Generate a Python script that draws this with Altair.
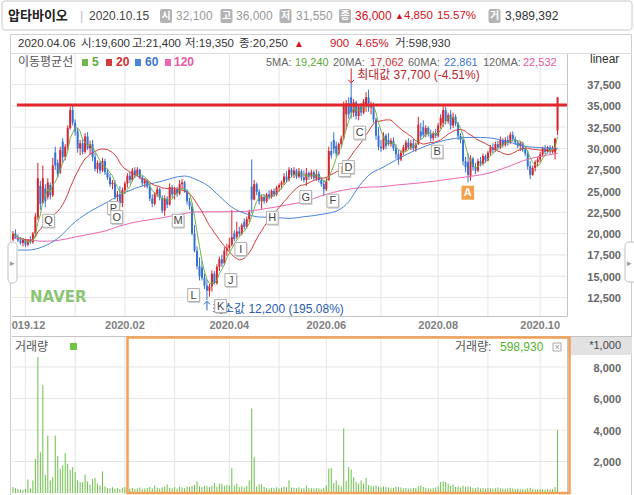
import altair as alt
import pandas as pd

# ---------------- data ----------------
open_px = [
    19300, 20000, 19500, 19200, 18900, 19300, 18700, 19100, 19000, 20000,
    21900, 25600, 23600, 25300, 24300, 25700, 24500, 29500, 28300, 27200,
    30800, 29000, 30200, 32400, 34500, 33000, 32000, 30000, 30600, 29600,
    31400, 30000, 30500, 29000, 27600, 28300, 27400, 28500, 27200, 26600,
    25800, 26000, 24300, 24600, 23600, 25100, 25900, 26800, 26300, 27400,
    26900, 27500, 26600, 25900, 26200, 25500, 24100, 23500, 24600, 25200,
    24200, 22700, 24100, 23400, 25400, 24600, 25200, 24700, 25800, 26000,
    25000, 23800, 23200, 20000, 18000, 16200, 16000, 14800, 13900, 13300,
    13800, 15300, 14200, 16100, 17000, 16500, 18000, 18300, 18700, 20000,
    19600, 20250, 20000, 21400, 20800, 21700, 25500, 24000, 25800, 24900,
    23800, 24300, 23800, 24600, 24300, 25000, 24600, 25400, 25700, 26000,
    26700, 26300, 27500, 26900, 27400, 26700, 27300, 26600, 26300, 27100,
    26700, 27200, 26500, 27000, 26300, 25800, 25200, 26300, 29700, 31000,
    30300, 29400, 30500, 31200, 34000, 35300, 36000, 34200, 35400, 33800,
    34900, 34200, 35000, 36000, 34800, 35200, 33400, 31500, 30200, 30000,
    31500, 31000, 30500, 30900, 30000, 29300, 28700, 29500, 29800, 30700,
    30100, 30600, 30000, 30500, 32000, 32500, 31600, 32400, 31700, 31200,
    31800, 31500, 32700, 33000, 34500, 33200, 34000, 32700, 33700, 32900,
    31500, 31000, 28500, 28400, 26800, 28800, 27800, 27400, 28500, 28200,
    29100, 28600, 29500, 30100, 29800, 30500, 30100, 31000, 30400, 31000,
    30700, 31600, 31100, 30700, 30300, 30600, 29900, 29400, 27900, 26900,
    27700, 28400, 28700, 29300, 30000, 29600, 30100, 29700, 29500, 32100,
]
high_px = [
    20300, 20500, 19900, 19600, 19500, 19400, 19300, 19700, 20200, 22400,
    28300, 26200, 28000, 25800, 26500, 26000, 28900, 30200, 28700, 30200,
    31200, 30500, 32700, 34900, 35000, 33400, 32400, 31000, 31200, 31800,
    31900, 30900, 31000, 29500, 28600, 28500, 28900, 28800, 27600, 27000,
    26300, 26300, 25000, 25600, 25400, 26100, 27100, 27200, 27700, 27800,
    27800, 27600, 26800, 26500, 26400, 25900, 24600, 24900, 25500, 25400,
    24500, 24500, 24400, 25900, 25700, 25500, 25500, 26300, 26400, 26200,
    25200, 24200, 23600, 21000, 18500, 17200, 16800, 15300, 14600, 14100,
    15700, 15600, 16400, 17300, 17500, 18400, 18800, 19500, 22800, 20400,
    21400, 20800, 21200, 21800, 22000, 22800, 28700, 26300, 26000, 25200,
    24600, 24600, 24800, 25100, 25200, 25300, 25600, 25900, 26200, 27100,
    27300, 27800, 27700, 27800, 27600, 27700, 27500, 27400, 27700, 27300,
    27500, 27400, 27500, 27300, 26600, 26300, 26500, 30200, 30800, 31900,
    30800, 30700, 31500, 35500, 35700, 36000, 37700, 35800, 35600, 35200,
    35300, 35800, 36600, 36900, 35500, 35400, 33600, 32500, 31000, 31900,
    31700, 31800, 31200, 31300, 30500, 29800, 29800, 30400, 31000, 31200,
    31000, 31100, 30700, 33700, 33000, 33300, 32700, 32600, 32200, 32000,
    32300, 33000, 34000, 35000, 34900, 34200, 34500, 34200, 34000, 33100,
    31800, 31400, 29000, 29400, 29200, 29000, 28300, 28800, 29000, 29400,
    29300, 29700, 30400, 30600, 30800, 30900, 31400, 31200, 31300, 31500,
    31900, 32000, 31400, 31000, 30900, 30800, 30100, 29800, 28500, 28000,
    28600, 29000, 29600, 30200, 30400, 30300, 30400, 30300, 31200, 36000,
]
low_px = [
    19100, 19400, 19000, 18700, 18500, 18400, 18500, 18800, 18800, 19600,
    21600, 22800, 23500, 23100, 24000, 24000, 24300, 27500, 26600, 27000,
    28300, 28600, 29800, 32200, 32700, 31500, 29500, 29200, 29300, 29400,
    29800, 29300, 28500, 27300, 27100, 27000, 27200, 26900, 26300, 25500,
    25200, 24000, 23500, 23200, 23100, 24700, 25400, 25900, 26100, 26500,
    26700, 26400, 25600, 25400, 25300, 23800, 23100, 23300, 24300, 23900,
    22400, 22100, 23000, 23300, 24200, 24000, 24300, 24500, 25200, 24800,
    23400, 22800, 19800, 17800, 15800, 14500, 14500, 13500, 12200, 12600,
    13200, 14000, 14000, 15600, 16100, 16300, 17400, 18000, 18500, 19100,
    19350, 19600, 19800, 20500, 20600, 21300, 22400, 23900, 24500, 23400,
    22900, 23500, 23600, 24000, 24100, 24300, 24400, 24900, 25200, 25700,
    26000, 26100, 26600, 26500, 26400, 26500, 26200, 26000, 25600, 26300,
    26400, 26300, 26200, 26000, 25500, 24400, 25000, 26200, 28800, 29400,
    29000, 29200, 30200, 31000, 32200, 33500, 33500, 33700, 33400, 33300,
    33800, 34000, 34300, 34300, 34000, 33000, 31000, 29800, 29600, 29800,
    29900, 30300, 30200, 29700, 28800, 28100, 28500, 29200, 29600, 29900,
    29800, 29700, 29600, 30400, 31000, 31300, 31300, 31400, 30800, 30900,
    31200, 31300, 32300, 32500, 32800, 32900, 32200, 32400, 32600, 31000,
    30600, 28000, 27200, 26000, 26200, 27400, 27000, 27200, 27900, 28000,
    28300, 28500, 29200, 29400, 29600, 29800, 29900, 30100, 30200, 30300,
    30500, 30800, 30400, 30000, 29700, 29600, 29100, 27500, 26400, 26800,
    27300, 27900, 28300, 29000, 29300, 29400, 29300, 29400, 28700, 31550,
]
close_px = [
    20000, 19500, 19200, 18900, 19300, 18700, 19100, 19000, 20000, 22000,
    26500, 23500, 26500, 23800, 26000, 24500, 28000, 28000, 27000, 29800,
    29000, 30200, 32400, 34500, 33000, 32000, 30000, 30600, 29600, 31400,
    30000, 30500, 29000, 27600, 28300, 27400, 28500, 27200, 26600, 25800,
    26000, 24300, 24600, 23600, 25100, 25900, 26800, 26300, 27400, 26900,
    27500, 26600, 25900, 26200, 25500, 24100, 23500, 24600, 25200, 24200,
    22700, 24100, 23400, 25400, 24600, 25200, 24700, 25800, 26000, 25000,
    23800, 23200, 20000, 18000, 16200, 15000, 14800, 13900, 13300, 13800,
    15300, 14200, 16100, 17000, 16500, 18000, 18300, 18700, 19600, 19350,
    20250, 20000, 21000, 20800, 21700, 22500, 24000, 25800, 24900, 23800,
    24300, 23800, 24600, 24300, 25000, 24600, 25400, 25700, 26000, 26700,
    26300, 27500, 26900, 27400, 26700, 27300, 26600, 26300, 27100, 26700,
    27200, 26500, 27000, 26300, 25800, 25200, 26200, 29700, 29200, 29900,
    29400, 30500, 31200, 35000, 35300, 34000, 34200, 35400, 33800, 34900,
    34200, 35500, 36000, 34800, 35200, 33400, 31500, 30200, 30000, 31500,
    30300, 30500, 30900, 30000, 29300, 28700, 29500, 30100, 30700, 30100,
    30600, 30000, 30400, 32800, 31400, 31600, 32400, 31700, 31200, 31800,
    31500, 32700, 33600, 34500, 33200, 33900, 32700, 33700, 32900, 31500,
    31000, 28500, 27800, 26900, 28800, 27800, 27400, 28500, 28200, 29100,
    28600, 29500, 30100, 29800, 30500, 30100, 31000, 30400, 31000, 30700,
    31600, 31100, 30700, 30300, 30600, 29900, 29400, 27900, 26900, 27700,
    28400, 28700, 29300, 30000, 29600, 30100, 29700, 30000, 31150, 36000,
]
volume_k = [
    380, 300, 250, 220, 200, 260, 860, 300, 800, 2170,
    8630, 2590, 6860, 1160, 3640, 800, 1000, 3640, 2340, 1540,
    1750, 2530, 1850, 1470, 1640, 1330, 800, 700, 700, 1160,
    740, 530, 900, 950, 590, 480, 1370, 420, 330, 300,
    360, 280, 310, 260, 340, 380, 300, 280, 320, 260,
    300, 340, 270, 290, 320, 380, 300, 480, 330, 290,
    360, 420, 550, 330, 300, 370, 280, 400, 350, 300,
    420, 380, 450, 520, 740, 430, 380, 460, 420, 380,
    450, 630, 400, 590, 590, 460, 520, 480, 1580, 460,
    599, 380, 420, 350, 450, 800, 5370, 2270, 420, 550,
    550, 380, 300, 280, 330, 300, 360, 290, 340, 420,
    380, 800, 350, 330, 300, 360, 280, 300, 480, 320,
    300, 280, 310, 300, 270, 330, 480, 1540, 1580, 630,
    800, 530, 420, 4100, 750, 1640, 1500, 1000, 700, 590,
    800, 590, 950, 500, 460, 420, 480, 400, 360, 420,
    380, 350, 300, 330, 420, 380, 350, 300, 320, 280,
    300, 330, 300, 420, 480, 380, 330, 300, 280, 310,
    350, 420, 700, 740, 700, 600, 450, 530, 380, 420,
    350, 460, 380, 420, 400, 330, 300, 360, 280, 300,
    270, 330, 300, 280, 300, 350, 300, 280, 260, 300,
    330, 280, 250, 270, 240, 260, 230, 300, 330, 260,
    240, 230, 250, 240, 220, 250, 230, 260, 380, 3989,
]

# 60- and 120-day moving averages as drawn (they include history before the window)
ma60_idx = [2, 6, 12, 18, 25, 32, 37, 43, 51, 59, 69, 74, 78, 83, 88, 94, 99, 104,
            111, 117, 125, 131, 135, 139, 144, 148, 154, 162, 170, 178, 185, 191,
            199, 207, 219]
ma60_val = [18070, 18070, 18460, 19440, 21390, 22770, 23550, 24530, 25500, 26090,
            26760, 26300, 25700, 24400, 23100, 22300, 21950, 21910, 21790, 21980,
            22300, 22770, 23740, 25500, 27070, 27660, 28640, 29810, 30670, 31180,
            31300, 31250, 30780, 30200, 30010]
ma120_idx = [0, 6, 12, 18, 25, 32, 37, 43, 51, 59, 67, 74, 85, 93, 101, 110, 117,
             125, 133, 141, 148, 154, 162, 170, 178, 185, 191, 199, 207, 215, 219]
ma120_val = [19440, 19300, 19100, 19200, 19600, 20000, 20300, 20900, 21450, 21800,
             22250, 22550, 22570, 22600, 22900, 23350, 23740, 24530, 25110, 25430,
             25500, 25700, 25900, 26170, 26490, 26760, 27070, 27850, 28720, 29220,
             29420]

month_idx = [5, 25, 45, 65, 87, 107, 126, 148, 171, 191, 212]
label_idx = [5, 45, 87, 126, 171, 212]
label_txt = ["2019.12", "2020.02", "2020.04", "2020.06", "2020.08", "2020.10"]
price_ticks = [12500, 15000, 17500, 20000, 22500, 25000, 27500, 30000, 32500, 35000, 37500]
vol_ticks = [2000, 4000, 6000, 8000]

mk_letter = ["Q", "P", "O", "M", "L", "K", "J", "I", "H", "G", "F", "E", "D", "C", "B"]
mk_idx = [14.3, 40.4, 41.7, 66.4, 72.6, 83.5, 87.6, 91.6, 104.3, 117.7, 128.6, 133.3,
          134.9, 139.4, 170.6]
mk_price = [21510, 23000, 21940, 21510, 12790, 11500, 14550, 18190, 21860, 24290,
            23860, 27460, 27810, 31840, 29610]
mkA_idx, mkA_price = 182.9, 24800

hline_start, hline_end, hline_price = 1.6, 222.8, 35100
max_idx, max_price = 136, 37700
min_idx, min_price = 78, 12200

# ---------------- styling ----------------
UP, DN = "#d3262e", "#3572d2"
GRID = "#e5e5e5"
FONT = "Liberation Sans, Noto Sans CJK KR, sans-serif"
C5, C20, C60, C120 = "#72b34a", "#d23b3b", "#4a84d8", "#ec66b0"

xs = alt.Scale(domain=[-0.4, 222.8], range=[12, 567], nice=False, zero=False)
ps = alt.Scale(domain=[10330, 41080], range=[316, 54], nice=False, zero=False)
vs = alt.Scale(domain=[0, 9905], range=[493, 337], nice=False, zero=False)

df = pd.DataFrame({"i": list(range(len(close_px))), "o": open_px, "h": high_px,
                   "l": low_px, "c": close_px, "v": volume_k})
df["v0"] = 0
df["col"] = [UP if c >= o else DN for o, c in zip(df["o"], df["c"])]

X = alt.X("i:Q", scale=xs, axis=None)


def pxrect(rows, **kw):
    d = pd.DataFrame(rows, columns=["x", "x2", "y", "y2"])
    return alt.Chart(d).mark_rect(**kw).encode(
        x=alt.X("x:Q", scale=None, axis=None), x2="x2:Q",
        y=alt.Y("y:Q", scale=None, axis=None), y2="y2:Q")


def pxrule(rows, **kw):
    d = pd.DataFrame(rows, columns=["x", "x2", "y", "y2"])
    return alt.Chart(d).mark_rule(**kw).encode(
        x=alt.X("x:Q", scale=None, axis=None), x2="x2:Q",
        y=alt.Y("y:Q", scale=None, axis=None), y2="y2:Q")


def ptext(rows, size=12, weight="normal", align="left", font=FONT):
    d = pd.DataFrame(rows, columns=["x", "y", "t", "c"])
    return alt.Chart(d).mark_text(align=align, baseline="middle", fontSize=size,
                                  fontWeight=weight, font=font).encode(
        x=alt.X("x:Q", scale=None, axis=None), y=alt.Y("y:Q", scale=None, axis=None),
        text="t:N", color=alt.Color("c:N", scale=None, legend=None))


L = []
# frames
L.append(pxrect([(2, 632, 1, 30)], fill="white", stroke="#c8c8c8", cornerRadius=3))
L.append(pxrect([(10.5, 631.5, 34.5, 530)], fill="white", stroke="#cfcfcf"))
L.append(pxrule([(10.5, 631.5, 53.5, 53.5)], color="#dcdcdc"))

# grids
mdf = pd.DataFrame({"i": month_idx})
L.append(alt.Chart(mdf).mark_rule(color=GRID).encode(x=X, y=alt.value(54), y2=alt.value(316)))
L.append(alt.Chart(mdf).mark_rule(color=GRID).encode(x=X, y=alt.value(337), y2=alt.value(495)))
L.append(alt.Chart(pd.DataFrame({"p": price_ticks})).mark_rule(color=GRID).encode(
    y=alt.Y("p:Q", scale=ps, axis=None), x=alt.value(12), x2=alt.value(567)))
L.append(alt.Chart(pd.DataFrame({"p": vol_ticks})).mark_rule(color=GRID).encode(
    y=alt.Y("p:Q", scale=vs, axis=None), x=alt.value(12), x2=alt.value(567)))

# axis frame lines
L.append(pxrule([(12, 567, 316.5, 316.5), (12, 632, 336.5, 336.5)], color="#c4c4c4"))
L.append(pxrule([(567.5, 567.5, 54, 316.5), (567.5, 567.5, 337, 495)], color="#c4c4c4"))

# volume bars
L.append(alt.Chart(df).mark_rule(color="#6cbf48", strokeWidth=1).encode(
    x=X, y=alt.Y("v0:Q", scale=vs, axis=None), y2="v:Q"))

# candles: wick (1px) and body (2px), both centred on the day
L.append(alt.Chart(df).mark_rule(strokeWidth=1).encode(
    x=X, y=alt.Y("l:Q", scale=ps, axis=None), y2="h:Q",
    color=alt.Color("col:N", scale=None, legend=None)))
L.append(alt.Chart(df).mark_rule(strokeWidth=2).encode(
    x=X, y=alt.Y("o:Q", scale=ps, axis=None), y2="c:Q",
    color=alt.Color("col:N", scale=None, legend=None)))

# moving averages
L.append(alt.Chart(pd.DataFrame({"i": ma120_idx, "m": ma120_val})).mark_line(
    color=C120, strokeWidth=1, interpolate="monotone").encode(
    x=X, y=alt.Y("m:Q", scale=ps, axis=None)))
L.append(alt.Chart(pd.DataFrame({"i": ma60_idx, "m": ma60_val})).mark_line(
    color=C60, strokeWidth=1, interpolate="monotone").encode(
    x=X, y=alt.Y("m:Q", scale=ps, axis=None)))
L.append(alt.Chart(df).transform_window(
    m="mean(c)", frame=[-19, 0], sort=[alt.SortField("i")]).mark_line(
    color=C20, strokeWidth=1).encode(x=X, y=alt.Y("m:Q", scale=ps, axis=None)))
L.append(alt.Chart(df).transform_window(
    m="mean(c)", frame=[-4, 0], sort=[alt.SortField("i")]).mark_line(
    color=C5, strokeWidth=1).encode(x=X, y=alt.Y("m:Q", scale=ps, axis=None)))

# drawn horizontal line
L.append(alt.Chart(pd.DataFrame({"a": [hline_start], "b": [hline_end], "p": [hline_price]}))
         .mark_rule(color="#e2262c", strokeWidth=3).encode(
    x=alt.X("a:Q", scale=xs, axis=None), x2="b:Q", y=alt.Y("p:Q", scale=ps, axis=None)))

# letter markers
BOX = "M -0.9 -1 L 0.9 -1 L 0.9 1 L -0.9 1 Z"
mk = pd.DataFrame({"i": mk_idx, "p": mk_price, "t": mk_letter})
L.append(alt.Chart(mk).mark_point(shape=BOX, size=169, filled=True, color="#d0d0d0",
                                  opacity=1, xOffset=1, yOffset=1.5).encode(
    x=X, y=alt.Y("p:Q", scale=ps, axis=None)))
for r in range(len(mk)):
    sub = mk.iloc[[r]]
    L.append(alt.Chart(sub).mark_point(shape=BOX, size=169, filled=True, fill="white",
                                       stroke="#b0b0b0", strokeWidth=1, opacity=1).encode(
        x=X, y=alt.Y("p:Q", scale=ps, axis=None)))
    L.append(alt.Chart(sub).mark_text(fontSize=11, font=FONT, color="#444", baseline="middle",
                                      dy=0.5).encode(
        x=X, y=alt.Y("p:Q", scale=ps, axis=None), text="t:N"))
mka = pd.DataFrame({"i": [mkA_idx], "p": [mkA_price], "t": ["A"]})
L.append(alt.Chart(mka).mark_point(shape=BOX, size=196, filled=True, color="#f5a14c",
                                   opacity=1).encode(x=X, y=alt.Y("p:Q", scale=ps, axis=None)))
L.append(alt.Chart(mka).mark_text(fontSize=11, fontWeight="bold", font=FONT, color="white",
                                  baseline="middle", dy=0.5).encode(
    x=X, y=alt.Y("p:Q", scale=ps, axis=None), text="t:N"))

# max / min annotations
mx = pd.DataFrame({"i": [max_idx], "p": [max_price], "top": [39400], "tp": [38600],
                   "t": ["최대값 37,700 (-4.51%)"]})
L.append(alt.Chart(mx).mark_rule(color="#c8252b", strokeWidth=1).encode(
    x=X, y=alt.Y("p:Q", scale=ps, axis=None), y2="top:Q"))
L.append(alt.Chart(mx).mark_point(shape="M -1 -1 L 0 0 L 1 -1", size=36, filled=False,
                                  color="#c8252b", strokeWidth=1, opacity=1).encode(
    x=X, y=alt.Y("p:Q", scale=ps, axis=None)))
L.append(alt.Chart(mx).mark_text(align="left", baseline="middle", fontSize=12, font=FONT,
                                 color="#b8262c", dx=6).encode(
    x=X, y=alt.Y("tp:Q", scale=ps, axis=None), text="t:N"))
mn = pd.DataFrame({"i": [min_idx], "p": [12050], "bot": [11000], "tp": [11150],
                   "t": ["최소값 12,200 (195.08%)"]})
L.append(alt.Chart(mn).mark_rule(color="#2f62b5", strokeWidth=1).encode(
    x=X, y=alt.Y("p:Q", scale=ps, axis=None), y2="bot:Q"))
L.append(alt.Chart(mn).mark_point(shape="M -1 1 L 0 0 L 1 1", size=36, filled=False,
                                  color="#2f62b5", strokeWidth=1, opacity=1).encode(
    x=X, y=alt.Y("p:Q", scale=ps, axis=None)))
L.append(alt.Chart(mn).mark_text(align="left", baseline="middle", fontSize=12, font=FONT,
                                 color="#2a5db0", dx=5).encode(
    x=X, y=alt.Y("tp:Q", scale=ps, axis=None), text="t:N"))
# K marker sits over the min text
L.append(alt.Chart(mk[mk.t == "K"]).mark_point(shape=BOX, size=169, filled=True, fill="white",
                                               stroke="#b0b0b0", strokeWidth=1, opacity=1).encode(
    x=X, y=alt.Y("p:Q", scale=ps, axis=None)))
L.append(alt.Chart(mk[mk.t == "K"]).mark_text(fontSize=11, font=FONT, color="#444",
                                              baseline="middle", dy=0.5).encode(
    x=X, y=alt.Y("p:Q", scale=ps, axis=None), text="t:N"))

# watermark
L.append(ptext([(30, 297, "NAVER", "#8cc574")], size=15, weight="bold",
               font="DejaVu Sans, sans-serif"))

# axis labels
L.append(alt.Chart(pd.DataFrame({"p": price_ticks})).mark_text(
    align="right", baseline="middle", fontSize=11, fontWeight="bold", font=FONT,
    color="#666", dy=1.5).encode(y=alt.Y("p:Q", scale=ps, axis=None), x=alt.value(621),
                                 text=alt.Text("p:Q", format=",")))
L.append(alt.Chart(pd.DataFrame({"p": vol_ticks})).mark_text(
    align="right", baseline="middle", fontSize=11, fontWeight="bold", font=FONT,
    color="#666", dy=1.5).encode(y=alt.Y("p:Q", scale=vs, axis=None), x=alt.value(621),
                                 text=alt.Text("p:Q", format=",")))
L.append(alt.Chart(pd.DataFrame({"i": label_idx, "t": label_txt})).mark_text(
    align="center", baseline="middle", fontSize=11, fontWeight="bold", font=FONT,
    color="#808080").encode(x=X, y=alt.value(326), text="t:N"))
# left clip of the first month label
L.append(pxrect([(0, 11.5, 317, 336)], fill="white"))
L.append(pxrule([(10.5, 10.5, 34.5, 495)], color="#cfcfcf"))

# header
RED = "#d0111b"
L.append(ptext([(8, 16, "압타바이오", "#222")], size=13, weight="bold"))
L.append(ptext([(80, 16, "|", "#c0c0c0"), (89, 16, "2020.10.15", "#444"),
                (176, 16, "32,100", "#999"), (236, 16, "36,000", "#999"),
                (296, 16, "31,550", "#999"), (355, 16, "36,000", RED),
                (505, 16, "3,989,392", "#333")], size=12))
L.append(ptext([(404, 16, "4,850", RED), (437, 16, "15.57%", RED)], size=11.5))
L.append(ptext([(395, 16, "▲", RED)], size=9))
L.append(pxrect([(160, 172, 9, 23), (220.5, 232.5, 9, 23), (279.5, 291.5, 9, 23),
                 (339, 351, 9, 23), (488.5, 500.5, 9, 23)], fill="#b3b3b3", cornerRadius=2))
L.append(ptext([(166, 16, "시", "white"), (226.5, 16, "고", "white"), (285.5, 16, "저", "white"),
                (345, 16, "종", "white"), (494.5, 16, "거", "white")], size=10, weight="bold",
               align="center"))

# info row
L.append(ptext([(18, 44, "2020.04.06", "#333"), (81, 44, "시:19,600", "#333"),
                (132, 44, "고:21,400", "#333"), (185, 44, "저:19,350", "#333"),
                (239, 44, "종:20,250", "#333"), (330, 44, "900", RED),
                (356, 44, "4.65%", RED), (395, 44, "거:598,930", "#333")], size=11.5))
L.append(ptext([(294, 44, "▲", RED)], size=10))

# legend row
L.append(ptext([(18, 62, "이동평균선", "#555")], size=12))
L.append(pxrect([(82, 88, 59, 66)], fill=C5))
L.append(pxrect([(106, 112, 59, 66)], fill=C20))
L.append(pxrect([(135, 141, 59, 66)], fill=C60))
L.append(pxrect([(165, 171, 59, 66)], fill=C120))
L.append(ptext([(92, 62, "5", "#5fa83a"), (116, 62, "20", "#d03030"),
                (145, 62, "60", "#3a76d0"), (174, 62, "120", "#e5579f")], size=12,
               weight="bold"))
L.append(ptext([(266, 63, "5MA:", "#666"), (295, 63, "19,240", "#5fa83a"),
                (333, 63, "20MA:", "#666"), (370, 63, "17,062", "#d03030"),
                (408, 63, "60MA:", "#666"), (444, 63, "22,861", "#3a76d0"),
                (483, 63, "120MA:", "#666"), (523, 63, "22,532", "#e5579f")], size=11))
L.append(ptext([(590, 59, "linear", "#333")], size=12))

# volume header
L.append(ptext([(15, 347, "거래량", "#555"), (455, 347, "거래량:", "#555"),
                (500, 347, "598,930", "#55b230")], size=12))
L.append(pxrect([(70, 77, 343, 350)], fill="#6cc644"))
L.append(pxrect([(553, 561, 343, 351)], fill="white", stroke="#aaaaaa"))
L.append(ptext([(557, 347, "×", "#999")], size=9, align="center"))
L.append(pxrect([(568, 632, 337, 355)], fill="#e2e2e2"))
L.append(ptext([(621, 346, "*1,000", "#444")], size=11, align="right"))

# selection rectangle
L.append(pxrect([(127.5, 569.5, 337.5, 493)], fill="transparent", stroke="#f0a25a",
                strokeWidth=2.5))

# side tabs
L.append(pxrect([(8, 17, 242, 283), (625, 645, 242, 282)], fill="white", stroke="#c0c0c0",
                cornerRadius=4))
L.append(ptext([(12.5, 263, "▸", "#999"), (629.5, 263, "▸", "#999")], size=9,
               align="center"))

chart = alt.layer(*L).resolve_scale(x="independent", y="independent").properties(
    width=634, height=495, padding=0, autosize=alt.AutoSizeParams(type="none"),
    background="white").configure_view(stroke=None)

chart.save("out.html", embed_options={"renderer": "svg", "actions": False})
